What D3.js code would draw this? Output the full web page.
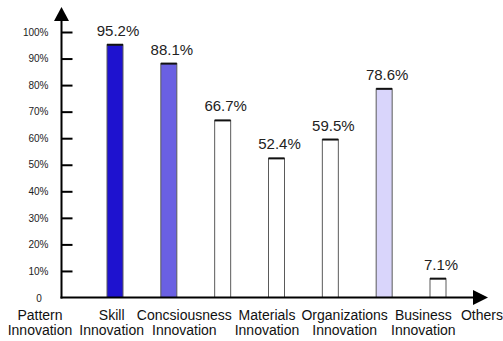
<!DOCTYPE html>
<html><head><meta charset="utf-8">
<script src="https://cdn.jsdelivr.net/npm/d3@7"></script>
<style>body{margin:0;background:#fff;}svg{display:block;}text{font-family:"Liberation Sans",Arial,sans-serif;}</style>
</head><body>
<svg id="c" width="503" height="341"></svg>
<script>
const categories = ["Pattern Innovation","Skill Innovation","Concsiousness Innovation","Materials Innovation","Organizations Innovation","Business Innovation","Others"];
const values = [0.952, 0.881, 0.667, 0.524, 0.595, 0.786, 0.071];
const valueLabels = ["95.2%","88.1%","66.7%","52.4%","59.5%","78.6%","7.1%"];
const barColors = ["#1e12cf","#6a60e2","#ffffff","#ffffff","#ffffff","#d9d5fb","#ffffff"];
const yTicks = [0.1,0.2,0.3,0.4,0.5,0.6,0.7,0.8,0.9,1.0];

const svg = d3.select("#c");
const x0 = 61.5, y0 = 297.5;
const y = d3.scaleLinear().domain([0,1]).range([y0, 32]);
const xBar = d3.scalePoint().domain(categories).range([115, 438]);
const xLab = d3.scalePoint().domain(categories).range([40, 482]);
const labNudge = [0, -2, -3, 6, 10, 15, 0];
const bw = 16;

// bars
const g = svg.append("g");
categories.forEach((c,i)=>{
  const cx = xBar(c), top = y(values[i]);
  g.append("rect").attr("x", cx-bw/2).attr("y", top).attr("width", bw).attr("height", y0-top)
    .attr("fill", barColors[i]).attr("stroke", "#5a5a5a").attr("stroke-width", 1);
  g.append("line").attr("x1", cx-bw/2).attr("x2", cx+bw/2).attr("y1", top).attr("y2", top)
    .attr("stroke", "#111").attr("stroke-width", 2);
  g.append("text").attr("x", cx+3).attr("y", top-9).attr("text-anchor","middle")
    .attr("font-size", 15).attr("fill", "#222").text(valueLabels[i]);
});

// y axis
const yAxis = d3.axisLeft(y).tickValues(yTicks).tickSizeInner(-11).tickSizeOuter(0).tickPadding(13)
  .tickFormat(d3.format(".0%"));
const ga = svg.append("g").attr("transform", `translate(${x0},0)`).call(yAxis);
ga.select(".domain").remove();
ga.selectAll(".tick line").attr("stroke","#000").attr("stroke-width",2);
ga.selectAll(".tick text").attr("font-size",10).attr("fill","#222").attr("font-family","Liberation Sans, Arial, sans-serif");
svg.append("text").attr("x", 39).attr("y", y(0)+4).attr("text-anchor","middle").attr("font-size",10).attr("fill","#222").text("0");

// axis lines + arrows
svg.append("line").attr("x1", x0).attr("x2", x0).attr("y1", y0+1).attr("y2", 20).attr("stroke","#000").attr("stroke-width",2);
svg.append("line").attr("x1", x0-1).attr("x2", 475).attr("y1", y0).attr("y2", y0).attr("stroke","#000").attr("stroke-width",2);
svg.append("path").attr("d", `M${x0},7L${x0+7.5},21L${x0-7.5},21Z`).attr("fill","#000");
svg.append("path").attr("d", `M488,${y0}L473,${y0-7.5}L473,${y0+7.5}Z`).attr("fill","#000");

// x labels
categories.forEach((c,i)=>{
  const words = c.split(" ");
  const t = svg.append("text").attr("x", xLab(c)+labNudge[i]).attr("y", 320).attr("text-anchor","middle")
    .attr("font-size", 14).attr("fill","#111");
  words.forEach((w,j)=>{
    t.append("tspan").attr("x", xLab(c)+labNudge[i]).attr("dy", j===0?0:15).text(w);
  });
});
</script>
</body></html>
